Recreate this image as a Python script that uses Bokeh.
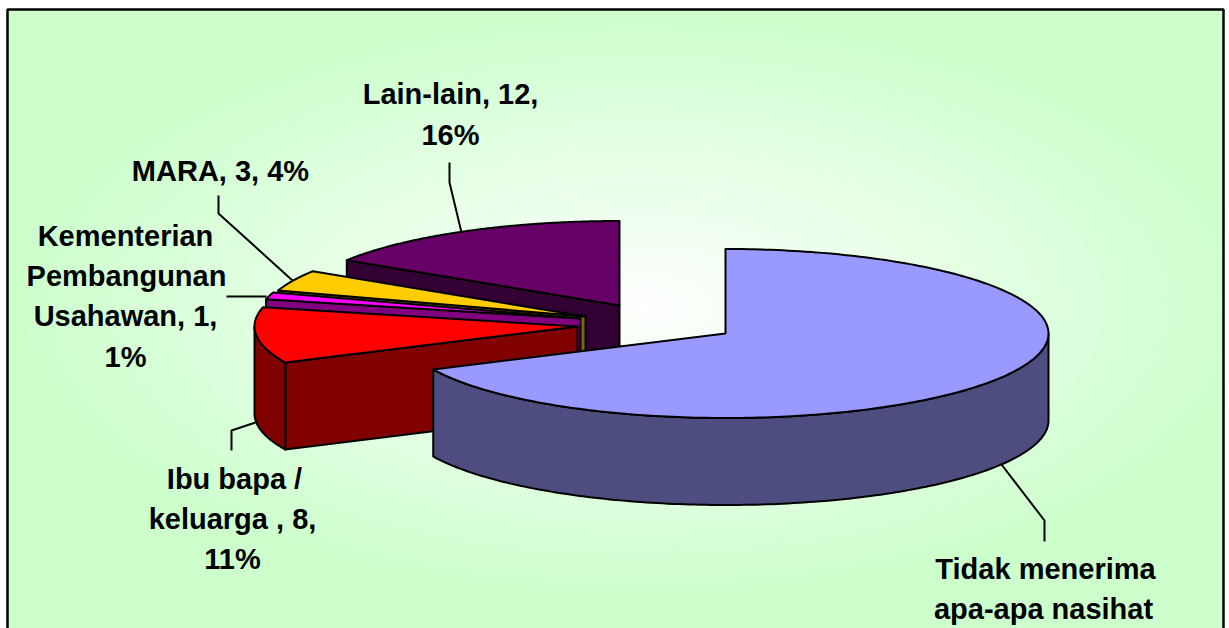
import numpy as np
from bokeh.plotting import figure
from bokeh.models import Range1d
from bokeh.core.properties import value
from bokeh.embed import file_html
from bokeh.resources import INLINE

# ---- data ----
categories = ["Tidak menerima apa-apa nasihat", "Ibu bapa / keluarga", "Kementerian Pembangunan Usahawan", "MARA", "Lain-lain"]
values = [51, 8, 1, 3, 12]
top_colors = ["#9999FF", "#FF0000", "#FF00FF", "#FFCC00", "#660066"]
wall_colors = ["#4D4D80", "#800000", "#800080", "#806600", "#330033"]

# ---- layout ----
W, H = 1229, 628
centers = [(725, 333), (577, 326), (580, 318), (585, 316), (619, 305)]
RX, RY, DEPTH = 323, 84.5, 87
FONT_PX = 29
label_lines = [
    ("Lain-lain, 12,", 450, 104), ("16%", 450, 145),
    ("MARA, 3, 4%", 220, 181),
    ("Kementerian", 125, 246), ("Pembangunan", 126, 286), ("Usahawan, 1,", 125, 326), ("1%", 125, 367),
    ("Ibu bapa /", 234, 489), ("keluarga , 8,", 232, 529), ("11%", 232, 569),
    ("Tidak menerima", 1045, 579), ("apa-apa nasihat", 1043, 619),
]
TEXT_SHIFT = -10.5
leaders = [
    [(449, 162), (449, 182), (461, 232)],
    [(218, 195), (218, 213), (292, 280)],
    [(226, 296), (266, 296)],
    [(231, 450), (231, 430), (255, 422)],
    [(1044, 541), (1044, 520), (1001, 464)],
]

def Y(py):
    return H - np.asarray(py, dtype=float)

p = figure(width=W, height=H, x_range=Range1d(0, W), y_range=Range1d(0, H),
           output_backend="svg", toolbar_location=None, min_border=0,
           outline_line_color=None, background_fill_color="white",
           border_fill_color="white")
p.axis.visible = False
p.grid.visible = False

# background gradient: light centre fading to pale green
L, R, T, B = 7, 1223, 9, 640
gw, gh = (R - L) // 2, (B - T) // 2
gx = np.linspace(L, R, gw)
gy = np.linspace(B, T, gh)  # bottom row first
xx, yy = np.meshgrid(gx, gy)
r = np.sqrt(((xx - 640) / 640.0) ** 2 + ((yy - 305) / 300.0) ** 2)
f = np.clip(r, 0, 1)
red = (255 - (255 - 204) * f).astype(np.uint32)
img = (255 << 24) | (red << 16) | (255 << 8) | red
p.image_rgba(image=[img.astype(np.uint32)], x=L, y=float(Y(B)), dw=R - L, dh=B - T)
p.line([L, R, R, L, L], Y([B, B, T, T, B]), line_color="black", line_width=2.5)

# pie geometry from the values (angle clockwise from 12 o'clock)
cum = np.cumsum([0] + values) / float(sum(values)) * 2 * np.pi

def pt(c, t, dz=0.0):
    return c[0] + RX * np.sin(t), c[1] - RY * np.cos(t) + dz

def draw(xs, ys, color):
    p.patch(xs, Y(ys), fill_color=color, line_color="black", line_width=2, line_join="round")

for i in reversed(range(len(values))):
    c = centers[i]
    t0, t1 = cum[i], cum[i + 1]
    # radial wall at the slice's start, if it faces the viewer
    if np.sin(t0) < -1e-9:
        x0, y0 = pt(c, t0)
        draw([c[0], x0, x0, c[0]], [c[1], y0, y0 + DEPTH, c[1] + DEPTH], wall_colors[i])
    # outer wall: only the front half of the circle is visible
    a, b = max(t0, np.pi / 2), min(t1, 3 * np.pi / 2)
    if b > a:
        ts = np.linspace(a, b, 160)
        ax, ay = pt(c, ts)
        draw(np.r_[ax, ax[::-1]], np.r_[ay, (ay + DEPTH)[::-1]], wall_colors[i])
    # top face
    ts = np.linspace(t0, t1, 240)
    ax, ay = pt(c, ts)
    draw(np.r_[c[0], ax], np.r_[c[1], ay], top_colors[i])

for seg in leaders:
    p.line([q[0] for q in seg], Y([q[1] for q in seg]), line_color="black", line_width=2)

for txt, x, y in label_lines:
    p.text([x], [float(Y(y + TEXT_SHIFT))], text=[txt], text_font=value("Liberation Sans"), text_font_style="bold",
           text_font_size=f"{FONT_PX}px", text_color="black", text_align="center", text_baseline="alphabetic")

open("out.html", "w").write(file_html(p, INLINE))
